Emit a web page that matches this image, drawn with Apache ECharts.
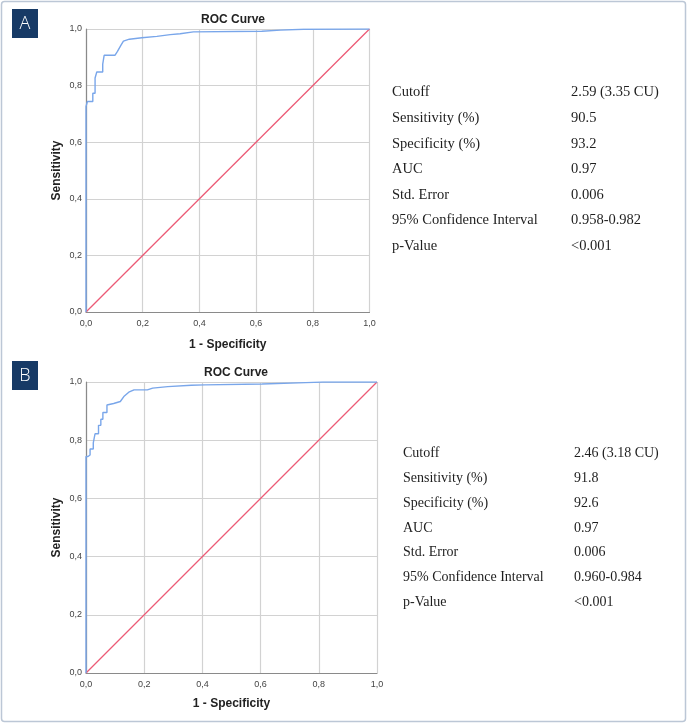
<!DOCTYPE html>
<html><head><meta charset="utf-8">
<script src="https://cdn.jsdelivr.net/npm/echarts@6/dist/echarts.min.js"></script>
<style>html,body{margin:0;padding:0;background:#fff}#c{width:687px;height:723px}</style>
</head><body><div id="c"></div>
<script>
// ---- Data ----
const panelLabels = ['A', 'B'];
const chartTitle = 'ROC Curve';
const xAxisName = '1 - Specificity';
const yAxisName = 'Sensitivity';
const tickLabels = ['0,0', '0,2', '0,4', '0,6', '0,8', '1,0'];

// ROC curve A (1-specificity, sensitivity)
const rocA = [
  [0, 0], [0, 0.726], [0.005, 0.726], [0.005, 0.744], [0.024, 0.744], [0.024, 0.773],
  [0.032, 0.773], [0.032, 0.827], [0.038, 0.827], [0.038, 0.848], [0.059, 0.848],
  [0.059, 0.876], [0.064, 0.876], [0.064, 0.907], [0.102, 0.907], [0.111, 0.921],
  [0.123, 0.942], [0.132, 0.957], [0.153, 0.964], [0.197, 0.969], [0.25, 0.974],
  [0.297, 0.980], [0.332, 0.983], [0.379, 0.990], [0.62, 0.992], [0.686, 0.996],
  [0.767, 0.999], [1, 1]
];
// ROC curve B
const rocB = [
  [0, 0], [0, 0.744], [0.007, 0.744], [0.007, 0.749], [0.014, 0.749], [0.014, 0.770],
  [0.025, 0.770], [0.025, 0.791], [0.031, 0.791], [0.031, 0.822], [0.043, 0.822],
  [0.043, 0.851], [0.051, 0.851], [0.051, 0.872], [0.058, 0.872], [0.058, 0.895],
  [0.072, 0.895], [0.072, 0.921], [0.095, 0.926], [0.118, 0.933], [0.130, 0.950],
  [0.147, 0.965], [0.165, 0.973], [0.211, 0.973], [0.229, 0.979], [0.281, 0.984],
  [0.362, 0.989], [0.408, 0.990], [0.605, 0.993], [0.755, 0.998], [0.814, 1], [1, 1]
];
const diagonal = [[0, 0], [1, 1]];

const statLabels = ['Cutoff', 'Sensitivity (%)', 'Specificity (%)', 'AUC', 'Std. Error', '95% Confidence Interval', 'p-Value'];
const statsA = ['2.59 (3.35 CU)', '90.5', '93.2', '0.97', '0.006', '0.958-0.982', '<0.001'];
const statsB = ['2.46 (3.18 CU)', '91.8', '92.6', '0.97', '0.006', '0.960-0.984', '<0.001'];

// ---- Chart ----
const chart = echarts.init(document.getElementById('c'), null, {renderer: 'canvas'});
const grids = [
  {left: 86, top: 29, width: 283.5, height: 283},
  {left: 86, top: 382, width: 291, height: 291}
];
const tickFmt = v => tickLabels[Math.round(v * 5)] || '';
function xAx(i) {
  return {
    gridIndex: i, type: 'value', min: 0, max: 1, interval: 0.2,
    name: xAxisName, nameLocation: 'middle', nameGap: i === 0 ? 27 : 25,
    nameTextStyle: {fontFamily: 'Liberation Sans', fontWeight: 'bold', fontSize: 12, color: '#222'},
    axisLine: {show: true, lineStyle: {color: '#8a8a8a', width: 1.2}},
    axisTick: {show: false},
    axisLabel: {formatter: tickFmt, fontFamily: 'Liberation Sans', fontSize: 9, color: '#444', margin: 7},
    splitLine: {show: true, showMinLine: true, showMaxLine: true, lineStyle: {color: '#d2d2d2', width: 1.2}}
  };
}
function yAx(i) {
  return {
    gridIndex: i, type: 'value', min: 0, max: 1, interval: 0.2,
    name: yAxisName, nameLocation: 'middle', nameGap: 23, nameRotate: 90,
    nameTextStyle: {fontFamily: 'Liberation Sans', fontWeight: 'bold', fontSize: 12, color: '#222'},
    axisLine: {show: true, lineStyle: {color: '#8a8a8a', width: 1.2}},
    axisTick: {show: false},
    axisLabel: {formatter: tickFmt, fontFamily: 'Liberation Sans', fontSize: 9, color: '#444', margin: 4},
    splitLine: {show: true, showMinLine: true, showMaxLine: true, lineStyle: {color: '#d2d2d2', width: 1.2}}
  };
}
function lineSeries(i, data, color, w) {
  return {type: 'line', xAxisIndex: i, yAxisIndex: i, data: data, symbol: 'none',
    lineStyle: {color: color, width: w}, silent: true, animation: false, z: 3};
}

const graphics = [
  {type: 'rect', shape: {x: 1.5, y: 1.5, width: 684, height: 720, r: 3},
   style: {fill: 'none', stroke: '#bcc7d6', lineWidth: 1.5}, z: -1}
];
const labelBoxes = [{x: 12, y: 9}, {x: 12, y: 361}];
panelLabels.forEach((lab, i) => {
  graphics.push({type: 'rect', shape: {x: labelBoxes[i].x, y: labelBoxes[i].y, width: 26, height: 29},
    style: {fill: '#173a66'}});
  graphics.push({type: 'text', x: labelBoxes[i].x + 13, y: labelBoxes[i].y + 15,
    style: {text: lab, fill: '#fff', font: '300 18px "Open Sans"', textAlign: 'center', textVerticalAlign: 'middle'}});
});
const tables = [
  {stats: statsA, lx: 392, vx: 571, y0: 92.5, dy: 25.6, fs: 14.5},
  {stats: statsB, lx: 403, vx: 574, y0: 453.5, dy: 24.8, fs: 14}
];
tables.forEach(t => {
  statLabels.forEach((lab, j) => {
    graphics.push({type: 'text', x: t.lx, y: t.y0 + j * t.dy,
      style: {text: lab, fill: '#1e1e1e', font: t.fs + 'px "Liberation Serif"', textVerticalAlign: 'middle'}});
    graphics.push({type: 'text', x: t.vx, y: t.y0 + j * t.dy,
      style: {text: t.stats[j], fill: '#1e1e1e', font: t.fs + 'px "Liberation Serif"', textVerticalAlign: 'middle'}});
  });
});

chart.setOption({
  animation: false,
  backgroundColor: '#fff',
  title: [
    {text: chartTitle, left: 228, top: 9, textAlign: 'center',
     textStyle: {fontFamily: 'Liberation Sans', fontWeight: 'bold', fontSize: 12, color: '#222'}},
    {text: chartTitle, left: 231, top: 362, textAlign: 'center',
     textStyle: {fontFamily: 'Liberation Sans', fontWeight: 'bold', fontSize: 12, color: '#222'}}
  ],
  grid: grids,
  xAxis: [xAx(0), xAx(1)],
  yAxis: [yAx(0), yAx(1)],
  series: [
    lineSeries(0, diagonal, '#ec5b76', 1.3),
    lineSeries(0, rocA, '#79a6ea', 1.4),
    lineSeries(1, diagonal, '#ec5b76', 1.3),
    lineSeries(1, rocB, '#79a6ea', 1.4)
  ],
  graphic: graphics
});
</script></body></html>
